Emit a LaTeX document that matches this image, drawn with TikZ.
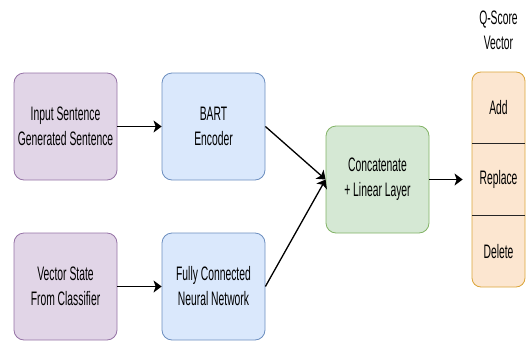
\documentclass[tikz,border=0pt]{standalone}
\usepackage{fontspec}
\setmainfont{Liberation Sans}[FakeStretch=0.53]
\usetikzlibrary{arrows.meta}

\definecolor{inputfill}{HTML}{E1D5E7}
\definecolor{inputline}{HTML}{9673A6}
\definecolor{encfill}{HTML}{DAE8FC}
\definecolor{encline}{HTML}{6C8EBF}
\definecolor{catfill}{HTML}{D5E8D4}
\definecolor{catline}{HTML}{82B366}
\definecolor{outfill}{HTML}{FCE6D0}
\definecolor{outline}{HTML}{DBA53A}

\begin{document}
\begin{tikzpicture}[x=1pt,y=-1pt]
    \tikzstyle{every node}=[font=\fontsize{19.5}{25}\selectfont]
    \tikzstyle{block}=[rounded corners=10pt, minimum width=103pt, minimum height=107pt,
        align=center, inner sep=0pt, line width=0.8pt]
    \tikzstyle{inputblock}=[block, draw=inputline, fill=inputfill]
    \tikzstyle{encblock}=[block, draw=encline, fill=encfill]
    \tikzstyle{catblock}=[block, draw=catline, fill=catfill]
    \tikzstyle{outblock}=[rounded corners=9pt, minimum width=53pt, minimum height=215pt,
        inner sep=0pt, line width=0.8pt, draw=outline, fill=outfill]
    \tikzstyle{cell}=[minimum width=53pt, minimum height=71.7pt, inner sep=0pt]
    \tikzstyle{flow}=[-{Stealth[length=8pt,width=12pt,inset=2pt]}, line width=1.3pt]

    \useasboundingbox (0,0) rectangle (527,343);

    % inputs
    \node[inputblock] (sentences) at (65.5,126.5) {Input Sentence\\Generated Sentence};
    \node[inputblock] (state) at (65.5,286.5) {Vector State\\From Classifier};

    % encoders
    \node[encblock] (bart) at (213.5,126.5) {BART\\Encoder};
    \node[encblock] (fcn) at (213.5,286.5) {Fully Connected\\Neural Network};

    \node[catblock] (concat) at (377.5,179.5) {Concatenate\\+ Linear Layer};

    % output vector
    \node[align=center] (qtitle) at (498.5,30) {Q-Score\\Vector};
    \node[outblock] (qvec) at (498.5,179.5) {};
    \node[cell] (add) at (498.5,107.8) {Add};
    \node[cell] (replace) at (498.5,179.5) {Replace};
    \node[cell] (delete) at (498.5,251.2) {Delete};
    \draw[line width=1pt, black!85] (add.south west) -- (add.south east);
    \draw[line width=1pt, black!85] (delete.north west) -- (delete.north east);

    \draw[flow] (sentences) -- (bart);
    \draw[flow] (state) -- (fcn);
    \draw[flow] (bart.east) -- (concat.west);
    \draw[flow] (fcn.east) -- (concat.west);
    \draw[flow, shorten >=9pt] (concat.east) -- (qvec.west);
\end{tikzpicture}
\end{document}
